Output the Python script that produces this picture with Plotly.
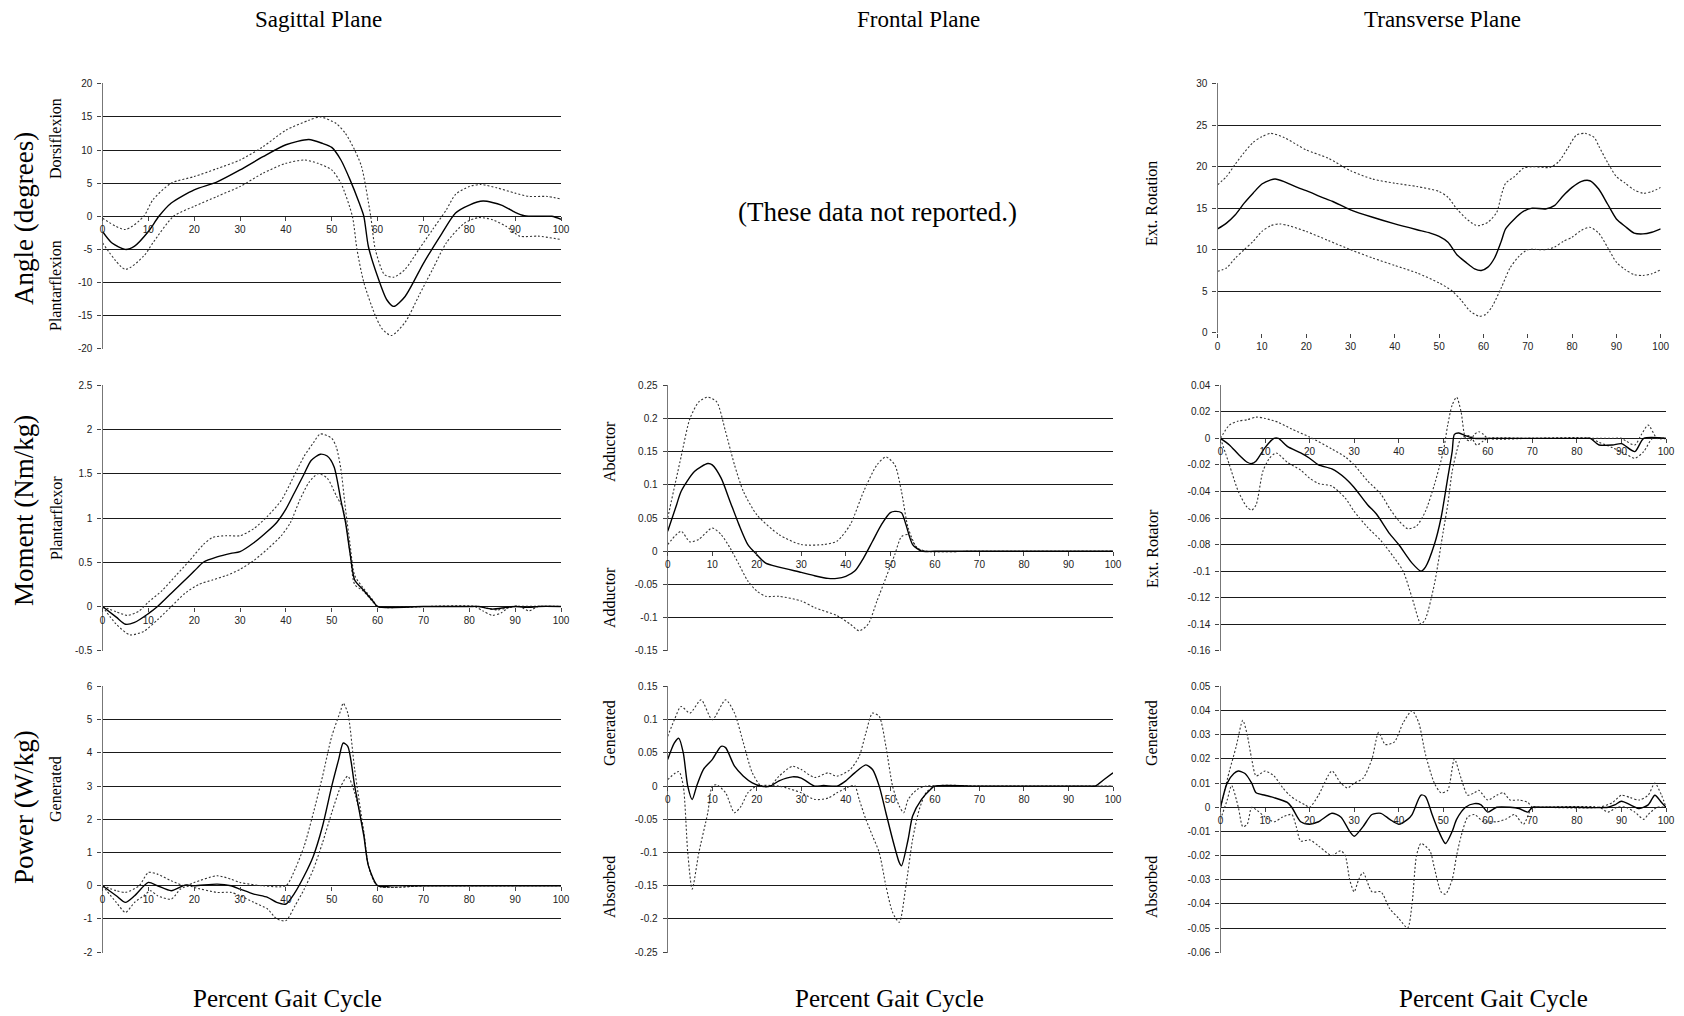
import plotly.graph_objects as go

# ---------------- DATA ----------------
pct_ticks = [0, 10, 20, 30, 40, 50, 60, 70, 80, 90, 100]
pct_ticklabels = ["0", "10", "20", "30", "40", "50", "60", "70", "80", "90", "100"]

# Sagittal angle (deg)
sa_mean_x = [0, 2, 5, 7, 10, 12.3, 15, 20, 25, 30, 35, 40, 45, 48, 50, 52, 54, 56, 57, 58, 60, 62, 63.5, 66, 70, 74, 77, 80, 83, 87, 90, 92, 95, 98, 100]
sa_mean_y = [-2.3, -4.0, -5.0, -4.5, -2.3, 0, 2.0, 4.0, 5.2, 7.0, 9.0, 10.8, 11.6, 11.0, 10.4, 8.5, 5.5, 2.0, 0.0, -4.6, -9.1, -12.6, -13.6, -12.1, -7.1, -2.6, 0.5, 1.7, 2.3, 1.7, 0.6, 0.1, 0, 0, -0.45]
sa_up_x = [0, 5, 9, 11, 15, 20, 25, 30, 35, 40, 45, 47.5, 51, 53, 55, 56.5, 58.5, 59.5, 61.5, 63.5, 66, 69, 72, 75, 77, 80, 82.5, 86, 90, 93, 97, 100]
sa_up_y = [-0.3, -2.0, 0.0, 2.5, 5.0, 6.0, 7.2, 8.5, 10.5, 13.0, 14.5, 15.0, 14.0, 12.5, 10.0, 7.5, 0.0, -5.0, -8.8, -9.2, -8.0, -5.0, -2.0, 1.0, 3.3, 4.5, 4.8, 4.3, 3.5, 3.0, 3.0, 2.6]
sa_lo_x = [0, 5, 9, 11, 15.5, 20, 25, 30, 35, 40, 44, 47, 50, 52, 54.5, 55.5, 57, 59.5, 61, 63, 66, 69, 72, 75, 79, 82, 85, 88, 91, 95, 100]
sa_lo_y = [-4.0, -8.0, -6.0, -4.0, 0.0, 1.5, 3.0, 4.5, 6.5, 8.0, 8.5, 8.0, 7.0, 5.0, 0.0, -5.0, -10.0, -15.0, -17.0, -18.0, -16.0, -12.0, -8.0, -4.0, -1.0, -0.2, -0.5, -1.5, -3.0, -3.0, -3.5]

# Sagittal moment (Nm/kg)
sm_mean_x = [0, 3, 5, 7, 10, 12, 15, 18, 20, 22, 25, 28, 30, 33, 36, 38, 40, 42, 44, 45.5, 47.5, 49, 50.5, 52, 53, 54, 55, 57, 59, 60, 70, 80, 82, 85, 88, 90, 93, 95, 100]
sm_mean_y = [0, -0.12, -0.2, -0.18, -0.08, 0, 0.15, 0.3, 0.4, 0.5, 0.56, 0.6, 0.62, 0.72, 0.85, 0.95, 1.1, 1.3, 1.5, 1.65, 1.72, 1.7, 1.58, 1.2, 0.95, 0.6, 0.3, 0.18, 0.06, 0, 0, 0, 0, -0.03, -0.01, 0, -0.01, 0, 0]
sm_up_x = [0, 3, 5.5, 8, 10, 13, 16, 19, 22, 24, 27, 30, 33, 36, 39, 42, 44, 46, 47.5, 50, 51, 52, 53, 54, 55, 57, 59, 60, 70, 81, 83, 85, 87, 89, 91, 93, 95, 100]
sm_up_y = [0, -0.06, -0.1, -0.05, 0.05, 0.18, 0.35, 0.52, 0.7, 0.78, 0.8, 0.8, 0.88, 1.02, 1.2, 1.5, 1.7, 1.85, 1.95, 1.9, 1.8, 1.55, 1.1, 0.7, 0.35, 0.2, 0.07, 0, 0, 0, -0.05, -0.1, -0.07, 0, 0, -0.05, 0, 0]
sm_lo_x = [0, 3, 6, 9, 12, 15, 18, 21, 24, 27, 30, 33, 36, 39, 41, 43, 45, 47, 49, 51, 52.5, 54, 55, 57, 59, 60, 70, 82, 84, 86, 88, 90, 100]
sm_lo_y = [0, -0.2, -0.32, -0.28, -0.15, 0, 0.15, 0.25, 0.3, 0.35, 0.42, 0.52, 0.65, 0.8, 0.95, 1.2, 1.4, 1.5, 1.45, 1.25, 1.1, 0.6, 0.25, 0.17, 0.05, 0, 0, 0, -0.02, -0.04, -0.02, 0, 0]

# Sagittal power (W/kg)
sp_mean_x = [0, 3, 5, 7, 10, 12, 15, 18, 20, 25, 28, 30, 33, 36, 38, 40, 42, 44, 46, 48, 50, 51.5, 52.5, 53.5, 55, 57, 58, 60, 62, 63, 70, 80, 90, 100]
sp_mean_y = [0, -0.3, -0.5, -0.3, 0.1, 0.0, -0.15, 0.02, 0.0, 0.05, 0.0, -0.1, -0.25, -0.35, -0.5, -0.55, -0.2, 0.3, 0.9, 1.8, 3.0, 3.8, 4.3, 4.2, 3.0, 1.5, 0.6, 0, -0.02, 0, 0, 0, 0, 0]
sp_up_x = [0, 3, 5, 8, 10, 12, 15, 18, 20, 25, 28, 30, 35, 40, 42, 44, 46, 48, 50, 52, 52.5, 53.5, 55, 57, 58, 60, 70, 80, 90, 100]
sp_up_y = [0, -0.15, -0.2, 0.0, 0.4, 0.35, 0.15, 0.0, 0.1, 0.3, 0.2, 0.1, 0.0, 0.0, 0.5, 1.2, 2.2, 3.3, 4.5, 5.3, 5.5, 5.2, 3.5, 1.6, 0.6, 0, 0, 0, 0, 0]
sp_lo_x = [0, 3, 5, 7, 9, 10.5, 12, 15, 17, 19, 20, 25, 28, 30, 33, 36, 38, 40, 42, 44, 46, 48, 50, 52, 53.5, 55, 57, 58, 60, 70, 80, 90, 100]
sp_lo_y = [0, -0.5, -0.8, -0.5, -0.3, -0.15, -0.3, -0.4, -0.1, 0.0, -0.05, -0.2, -0.2, -0.3, -0.5, -0.7, -1.0, -1.05, -0.6, -0.1, 0.5, 1.3, 2.2, 3.0, 3.3, 2.8, 1.6, 0.6, 0, 0, 0, 0, 0]

# Frontal moment (Nm/kg)
fm_mean_x = [0, 2, 3, 6, 9, 10, 12, 14, 16, 18, 20, 22, 25, 30, 33, 36, 38, 40, 42, 44, 46, 48, 50, 51, 52.5, 53.5, 55, 57, 60, 70, 80, 90, 100]
fm_mean_y = [0.03, 0.07, 0.09, 0.12, 0.132, 0.13, 0.11, 0.075, 0.04, 0.01, -0.005, -0.018, -0.024, -0.032, -0.037, -0.041, -0.041, -0.038, -0.03, -0.01, 0.015, 0.04, 0.058, 0.06, 0.058, 0.04, 0.01, 0.0, 0, 0, 0, 0, 0]
fm_up_x = [0, 3, 5, 7, 9, 11, 13, 15, 17, 20, 25, 30, 35, 38, 41, 44, 47, 49, 51, 52.5, 54, 56, 58, 70, 80, 90, 100]
fm_up_y = [0.05, 0.142, 0.2, 0.225, 0.232, 0.225, 0.18, 0.13, 0.09, 0.055, 0.025, 0.01, 0.01, 0.015, 0.04, 0.09, 0.13, 0.142, 0.13, 0.09, 0.035, 0.005, 0, 0, 0, 0, 0]
fm_lo_x = [0, 3, 5, 7, 10, 12, 14, 16, 18, 20, 22, 25, 30, 33, 38, 41, 43, 45, 47, 49, 51, 52.5, 54, 56, 58, 70, 80, 90, 100]
fm_lo_y = [0.01, 0.03, 0.014, 0.018, 0.035, 0.025, 0.005, -0.02, -0.045, -0.06, -0.068, -0.068, -0.075, -0.085, -0.097, -0.11, -0.12, -0.11, -0.075, -0.04, -0.005, 0.022, 0.025, 0.005, 0, 0, 0, 0, 0]

# Frontal power (W/kg)
fp_mean_x = [0, 1.5, 2.5, 3.5, 4.5, 5.5, 6.5, 8, 10, 12, 13, 15, 17, 19, 21, 23, 25, 28, 30, 33, 35, 38, 40, 42, 44.5, 46, 47.5, 49, 50.5, 52, 52.5, 54, 55, 57, 59, 60, 70, 80, 90, 95, 96, 98, 100]
fp_mean_y = [0.04, 0.065, 0.072, 0.05, 0.0, -0.02, 0.0, 0.025, 0.04, 0.06, 0.058, 0.03, 0.015, 0.005, 0.0, 0.0, 0.008, 0.014, 0.012, 0.0, 0.001, 0.0, 0.008, 0.02, 0.032, 0.025, 0.0, -0.04, -0.08, -0.115, -0.12, -0.08, -0.045, -0.02, -0.005, 0, 0, 0, 0, 0, 0.0, 0.01, 0.02]
fp_up_x = [0, 1.5, 3, 5, 7.5, 10, 13, 15, 17, 19, 21, 23, 25, 28, 30, 33, 36, 38, 41, 43, 44.5, 46, 47.5, 49, 50.5, 52, 53, 54, 56, 58, 70, 80, 90, 100]
fp_up_y = [0.075, 0.1, 0.12, 0.11, 0.13, 0.1, 0.13, 0.11, 0.065, 0.02, 0.0, 0.0, 0.015, 0.03, 0.025, 0.013, 0.02, 0.015, 0.025, 0.045, 0.08, 0.11, 0.105, 0.06, 0.0, -0.03, -0.04, -0.02, -0.005, 0.0, 0, 0, 0, 0]
fp_lo_x = [0, 2.5, 3.5, 4.5, 5.5, 7, 9, 10, 11, 13, 15, 16.5, 18, 20, 25, 30, 33, 36, 38, 41, 42, 43, 44.5, 46, 47.5, 49, 50.5, 52, 53.5, 55, 56.5, 58, 60, 70, 80, 90, 100]
fp_lo_y = [0.01, 0.022, 0.0, -0.1, -0.155, -0.1, -0.04, 0.0, 0.002, -0.01, -0.04, -0.03, -0.01, 0.0, 0.0, -0.01, -0.02, -0.018, -0.01, 0.0, 0.001, -0.02, -0.05, -0.075, -0.1, -0.15, -0.19, -0.205, -0.15, -0.08, -0.035, -0.01, 0, 0, 0, 0, 0]

# Transverse angle (deg)
ta_mean_x = [0, 2, 4, 6, 8, 10, 12, 13, 15, 18, 20, 24, 26, 30, 35, 40, 45, 48, 50, 52, 54, 56, 58, 59.5, 61, 62.5, 64, 65, 67, 69, 71, 74, 76, 78, 80, 82, 84, 86, 88, 90, 92, 94, 96, 98, 100]
ta_mean_y = [12.5, 13.2, 14.2, 15.6, 16.8, 17.9, 18.4, 18.5, 18.2, 17.5, 17.1, 16.2, 15.8, 14.8, 13.9, 13.1, 12.4, 12.0, 11.6, 10.9, 9.4, 8.5, 7.7, 7.5, 7.9, 9.0, 11.0, 12.5, 13.7, 14.6, 15.0, 14.9, 15.3, 16.5, 17.5, 18.2, 18.3, 17.3, 15.5, 13.7, 12.8, 12.0, 11.9, 12.1, 12.5]
ta_up_x = [0, 2, 4, 6, 8, 10, 12, 15, 18, 20, 25, 30, 35, 40, 45, 50, 52, 54, 56, 58, 59, 61, 63, 64, 65, 67, 69, 71, 75, 77, 79, 81, 83, 85, 86, 88, 90, 92, 94, 96, 98, 100]
ta_up_y = [17.8, 18.8, 20.3, 21.7, 22.9, 23.6, 24.0, 23.5, 22.6, 22.0, 21.0, 19.5, 18.5, 18.0, 17.6, 17.0, 16.3, 14.9, 13.8, 13.0, 12.9, 13.3, 14.5, 16.5, 18.0, 18.8, 19.8, 20.0, 19.9, 20.6, 22.2, 23.8, 24.0, 23.5, 22.5, 20.5, 18.8, 18.0, 17.2, 16.8, 17.0, 17.5]
ta_lo_x = [0, 2, 4, 6, 8, 10, 12, 14, 16, 20, 25, 30, 35, 40, 45, 50, 53, 55, 57, 59, 60.5, 62, 64, 66, 68, 70, 74, 76, 78, 80, 82, 84, 86, 88, 90, 92, 94, 96, 98, 100]
ta_lo_y = [7.4, 7.8, 9.0, 10.0, 11.0, 12.2, 12.9, 13.1, 12.9, 12.2, 11.1, 10.0, 9.0, 8.1, 7.2, 6.0, 5.0, 3.9, 2.6, 2.0, 2.2, 3.2, 5.4, 7.8, 9.2, 10.0, 10.0, 10.3, 11.0, 11.5, 12.3, 12.7, 12.0, 10.3, 8.5, 7.6, 7.0, 6.9, 7.1, 7.6]

# Transverse moment (Nm/kg)
tm_mean_x = [0, 2, 4, 6, 7, 8, 10, 12, 13, 15, 18, 20, 22, 25, 28, 30, 33, 35, 38, 40, 43, 45, 46, 48, 49.5, 51, 52, 52.5, 53.5, 55, 57, 60, 70, 82, 83, 85, 88, 90, 93, 95, 100]
tm_mean_y = [0, -0.005, -0.012, -0.018, -0.019, -0.017, -0.007, 0.0, 0.0, -0.006, -0.011, -0.015, -0.02, -0.023, -0.03, -0.037, -0.05, -0.057, -0.072, -0.08, -0.094, -0.1, -0.097, -0.08, -0.06, -0.03, -0.01, 0.003, 0.004, 0.002, 0.0, 0, 0, 0, 0, -0.005, -0.005, -0.004, -0.01, 0.0, 0]
tm_up_x = [0, 2, 4, 6, 8, 10, 13, 16, 20, 25, 28, 30, 33, 36, 38, 40, 42, 44, 46, 48, 50, 51, 52, 53, 54, 55, 56, 57, 58, 59, 60, 70, 85, 88, 90, 91, 93, 94.5, 96, 98, 100]
tm_up_y = [0.0, 0.01, 0.013, 0.014, 0.016, 0.015, 0.012, 0.007, 0.001, -0.008, -0.014, -0.02, -0.032, -0.042, -0.053, -0.062, -0.068, -0.066, -0.055, -0.035, -0.01, 0.01, 0.025, 0.031, 0.02, 0.0, -0.002, 0.003, 0.005, 0.003, 0, 0, 0.0, 0.0, 0.0, -0.002, -0.005, 0.003, 0.01, 0.0, 0]
tm_lo_x = [0, 2, 4, 6, 7, 8, 9.5, 11, 12.5, 15, 18, 20, 22, 25, 28, 30, 33, 36, 39, 41, 43, 45, 46, 48, 50, 51, 52, 53, 54, 56, 57.5, 59, 60, 70, 83, 85, 88, 91, 93, 95, 97, 100]
tm_lo_y = [0, -0.02, -0.04, -0.052, -0.054, -0.05, -0.025, -0.015, -0.011, -0.018, -0.024, -0.03, -0.034, -0.036, -0.045, -0.055, -0.067, -0.077, -0.09, -0.1, -0.12, -0.14, -0.136, -0.11, -0.07, -0.05, -0.025, -0.01, 0.0, 0.002, -0.005, -0.002, 0, 0, 0, -0.003, -0.007, -0.012, -0.015, -0.01, 0.0, 0]

# Transverse power (W/kg)
tp_mean_x = [0, 1.5, 3, 4, 5.5, 7, 8, 10, 12, 15, 16, 18, 20, 22, 25, 27, 29, 30, 32, 34, 36, 38, 40, 42, 43, 45, 46, 47.5, 49, 50.5, 52, 53, 55, 57, 58.5, 60, 62, 65, 67, 69, 70, 72, 80, 87, 88.5, 90, 92, 94, 96, 97.5, 99, 100]
tp_mean_y = [0.0, 0.01, 0.014, 0.015, 0.014, 0.01, 0.006, 0.005, 0.004, 0.002, 0.0, -0.006, -0.007, -0.006, -0.0025, -0.004, -0.01, -0.012, -0.008, -0.003, -0.0025, -0.005, -0.007, -0.005, -0.003, 0.005, 0.0045, -0.003, -0.01, -0.015, -0.01, -0.005, 0.0, 0.0015, 0.001, -0.002, 0.0, 0.0, -0.0005, -0.002, 0.0, 0, 0, 0, 0.001, 0.0025, 0.001, -0.0005, 0.001, 0.005, 0.002, 0]
tp_up_x = [0, 2, 3.5, 5, 6, 7, 8, 10, 12, 14, 15.5, 17, 19, 20, 22, 25, 27, 28.5, 30, 32, 34, 35.5, 37, 39, 41, 43, 44.5, 46, 48, 49.5, 51, 52.5, 54, 55.5, 57, 58, 60, 62, 63.5, 65, 67, 69, 70, 72, 85, 88, 90, 92, 94, 96, 97.5, 99, 100]
tp_up_y = [0.0, 0.015, 0.025, 0.036, 0.03, 0.02, 0.013, 0.015, 0.013, 0.008, 0.005, 0.003, 0.001, 0.0, 0.005, 0.015, 0.01, 0.008, 0.01, 0.012, 0.02, 0.031, 0.026, 0.027, 0.035, 0.04, 0.035, 0.022, 0.01, 0.006, 0.007, 0.02, 0.012, 0.005, 0.006, 0.007, 0.003, 0.005, 0.006, 0.003, 0.003, 0.002, 0.0, 0, 0.0, 0.002, 0.005, 0.004, 0.003, 0.005, 0.01, 0.005, 0]
tp_lo_x = [0, 1.5, 2.5, 4, 5, 6, 7, 8, 10, 12, 14, 16, 17, 18, 20, 22, 24, 25, 27, 28, 29, 30, 31, 32, 34, 36, 38, 40, 42, 43, 44, 45, 47, 48, 49.5, 50.5, 52, 53, 54, 55.5, 57, 59, 61, 62, 64, 66, 68, 70, 72, 85, 87, 89, 91, 93, 95, 96, 98, 100]
tp_lo_y = [-0.005, 0.003, 0.009, 0.0, -0.008, -0.007, 0.0, -0.001, -0.004, -0.006, -0.004, -0.003, -0.008, -0.014, -0.0135, -0.016, -0.019, -0.02, -0.018, -0.02, -0.03, -0.035, -0.03, -0.027, -0.035, -0.035, -0.042, -0.046, -0.05, -0.04, -0.02, -0.015, -0.018, -0.025, -0.035, -0.036, -0.03, -0.02, -0.012, -0.004, -0.003, -0.006, -0.006, -0.006, -0.005, -0.003, -0.007, 0.0, 0, 0.0, -0.002, 0.0, 0.0, -0.002, -0.005, -0.003, 0.0, 0]

# Y tick labels
sa_ticks = [20, 15, 10, 5, 0, -5, -10, -15, -20]
sa_ticklabels = ["20", "15", "10", "5", "0", "-5", "-10", "-15", "-20"]
sm_ticks = [2.5, 2, 1.5, 1, 0.5, 0, -0.5]
sm_ticklabels = ["2.5", "2", "1.5", "1", "0.5", "0", "-0.5"]
sp_ticks = [6, 5, 4, 3, 2, 1, 0, -1, -2]
sp_ticklabels = ["6", "5", "4", "3", "2", "1", "0", "-1", "-2"]
fm_ticks = [0.25, 0.2, 0.15, 0.1, 0.05, 0, -0.05, -0.1, -0.15]
fm_ticklabels = ["0.25", "0.2", "0.15", "0.1", "0.05", "0", "-0.05", "-0.1", "-0.15"]
fp_ticks = [0.15, 0.1, 0.05, 0, -0.05, -0.1, -0.15, -0.2, -0.25]
fp_ticklabels = ["0.15", "0.1", "0.05", "0", "-0.05", "-0.1", "-0.15", "-0.2", "-0.25"]
ta_ticks = [30, 25, 20, 15, 10, 5, 0]
ta_ticklabels = ["30", "25", "20", "15", "10", "5", "0"]
tm_ticks = [0.04, 0.02, 0, -0.02, -0.04, -0.06, -0.08, -0.1, -0.12, -0.14, -0.16]
tm_ticklabels = ["0.04", "0.02", "0", "-0.02", "-0.04", "-0.06", "-0.08", "-0.1", "-0.12", "-0.14", "-0.16"]
tp_ticks = [0.05, 0.04, 0.03, 0.02, 0.01, 0, -0.01, -0.02, -0.03, -0.04, -0.05, -0.06]
tp_ticklabels = ["0.05", "0.04", "0.03", "0.02", "0.01", "0", "-0.01", "-0.02", "-0.03", "-0.04", "-0.05", "-0.06"]

# ---------------- LAYOUT ----------------
W, H = 1684, 1016
SERIF = "Liberation Serif, Times New Roman, serif"
SANS = "Liberation Sans, Arial, sans-serif"

def px_x(p):
    return p / W

def px_y(p):
    return 1 - p / H

panels = [
    (((sa_mean_x, sa_mean_y), (sa_up_x, sa_up_y), (sa_lo_x, sa_lo_y)), (102.5, 561), (83.3, 349.3), (-20, 20), sa_ticks, sa_ticklabels),
    (((sm_mean_x, sm_mean_y), (sm_up_x, sm_up_y), (sm_lo_x, sm_lo_y)), (102.5, 561), (384.7, 651.3), (-0.5, 2.5), sm_ticks, sm_ticklabels),
    (((sp_mean_x, sp_mean_y), (sp_up_x, sp_up_y), (sp_lo_x, sp_lo_y)), (102.5, 561), (686, 952.7), (-2, 6), sp_ticks, sp_ticklabels),
    (((fm_mean_x, fm_mean_y), (fm_up_x, fm_up_y), (fm_lo_x, fm_lo_y)), (667.7, 1113), (384.7, 651.3), (-0.15, 0.25), fm_ticks, fm_ticklabels),
    (((fp_mean_x, fp_mean_y), (fp_up_x, fp_up_y), (fp_lo_x, fp_lo_y)), (667.7, 1113), (686, 952.7), (-0.25, 0.15), fp_ticks, fp_ticklabels),
    (((ta_mean_x, ta_mean_y), (ta_up_x, ta_up_y), (ta_lo_x, ta_lo_y)), (1217.6, 1660.7), (83, 333.3), (0, 30), ta_ticks, ta_ticklabels),
    (((tm_mean_x, tm_mean_y), (tm_up_x, tm_up_y), (tm_lo_x, tm_lo_y)), (1220.5, 1666), (384.7, 651.3), (-0.16, 0.04), tm_ticks, tm_ticklabels),
    (((tp_mean_x, tp_mean_y), (tp_up_x, tp_up_y), (tp_lo_x, tp_lo_y)), (1220.5, 1666), (686, 952.7), (-0.06, 0.05), tp_ticks, tp_ticklabels),
]

fig = go.Figure()
layout = dict(
    width=W, height=H, autosize=False,
    margin=dict(l=0, r=0, t=0, b=0, pad=0, autoexpand=False),
    paper_bgcolor="white", plot_bgcolor="white",
    showlegend=False,
    font=dict(family=SANS, size=10, color="#222"),
)

tickfont = dict(family=SANS, size=10, color="#222")

for i, (curves, (xl, xr), (yt, yb), (ymin, ymax), yt_vals, yt_text) in enumerate(panels):
    n = i + 1
    xa = "x" if n == 1 else f"x{n}"
    ya = "y" if n == 1 else f"y{n}"
    xkey = "xaxis" if n == 1 else f"xaxis{n}"
    ykey = "yaxis" if n == 1 else f"yaxis{n}"
    ydom = [px_y(yb), px_y(yt)]
    xdom = [px_x(xl), px_x(xr)]
    span = ymax - ymin
    eps = span * 0.002
    zero_pos = ydom[0] + (0 - ymin) / span * (ydom[1] - ydom[0])
    layout[xkey] = dict(
        domain=xdom, range=[0, 100], anchor="free", position=zero_pos,
        tickvals=pct_ticks, ticktext=pct_ticklabels,
        ticks="outside", ticklen=4, tickwidth=1, tickcolor="#444",
        showgrid=False, zeroline=False, showline=False, automargin=False,
        tickfont=tickfont, fixedrange=True,
    )
    layout[ykey] = dict(
        domain=ydom, range=[ymin - eps, ymax + eps], anchor=xa,
        tickvals=yt_vals, ticktext=yt_text,
        ticks="outside", ticklen=4, tickwidth=1, tickcolor="#444",
        showgrid=True, gridcolor="#1a1a1a", gridwidth=1,
        zeroline=False, showline=True, linecolor="#777", linewidth=1.3,
        automargin=False,
        tickfont=tickfont, fixedrange=True, ticklabelstandoff=3,
    )
    (mx, my), (ux, uy), (lx, ly) = curves
    for cx, cy, dash, width, color in ((ux, uy, "2px,2px", 1.1, "#333"),
                                        (lx, ly, "2px,2px", 1.1, "#333"),
                                        (mx, my, "solid", 1.4, "#000")):
        fig.add_trace(go.Scatter(
            x=cx, y=cy, xaxis=xa, yaxis=ya, mode="lines",
            line=dict(color=color, width=width, dash=dash, shape="spline", smoothing=0.7),
            hoverinfo="skip",
        ))

annotations = []

def add_text(text, xpix, ypix, size, angle=0, family=SERIF):
    annotations.append(dict(
        text=text, x=px_x(xpix), y=px_y(ypix), xref="paper", yref="paper",
        xanchor="center", yanchor="middle", showarrow=False, textangle=angle,
        font=dict(family=family, size=size, color="#000"),
    ))

add_text("Sagittal Plane", 318, 20, 23)
add_text("Frontal Plane", 918, 20, 23)
add_text("Transverse Plane", 1442, 20, 23)
add_text("Angle (degrees)", 24, 219, 27, -90)
add_text("Moment (Nm/kg)", 24, 511, 27, -90)
add_text("Power (W/kg)", 24, 807, 27, -90)
add_text("Dorsiflexion", 56, 139, 16, -90)
add_text("Plantarflexion", 56, 286, 16, -90)
add_text("Plantarflexor", 56, 518, 16, -90)
add_text("Generated", 55, 789, 16, -90)
add_text("Abductor", 609, 452, 16, -90)
add_text("Adductor", 609, 598, 16, -90)
add_text("Generated", 609, 733, 16, -90)
add_text("Absorbed", 609, 887, 16, -90)
add_text("Ext. Rotation", 1152, 204, 16, -90)
add_text("Ext. Rotator", 1152, 549, 16, -90)
add_text("Generated", 1151, 733, 16, -90)
add_text("Absorbed", 1151, 887, 16, -90)
add_text("(These data not reported.)", 877, 212, 27)
add_text("Percent Gait Cycle", 287, 998, 25)
add_text("Percent Gait Cycle", 889, 998, 25)
add_text("Percent Gait Cycle", 1493, 998, 25)

layout["annotations"] = annotations
fig.update_layout(**layout)

fig.write_html(
    "out.html",
    config={"displayModeBar": False, "responsive": False},
    post_script="document.body.style.margin='0';document.body.style.padding='0';document.body.style.overflow='hidden';",
)
